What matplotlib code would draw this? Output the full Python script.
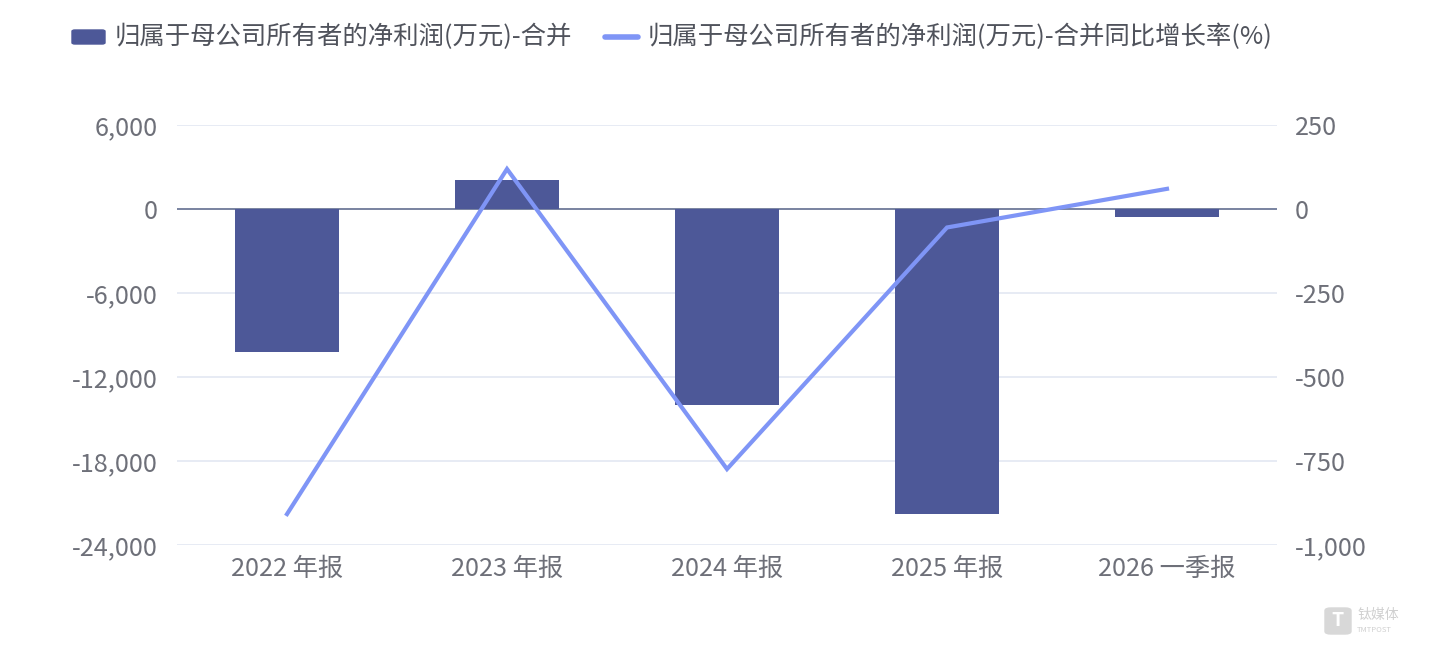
import numpy as np
import matplotlib.pyplot as plt
from matplotlib.patches import FancyBboxPatch
from matplotlib.ticker import FuncFormatter

plt.rcParams['font.family'] = ['Noto Sans CJK SC', 'DejaVu Sans']

# -------------------------------------------------
# data
# -------------------------------------------------
periods = ["2022 年报", "2023 年报", "2024 年报", "2025 年报", "2026 一季报"]
net_profit = [-10200, 2050, -14000, -21800, -580]     # 万元
yoy_growth = [-908, 119, -774, -55, 60]              # %

bar_label = "归属于母公司所有者的净利润(万元)-合并"
line_label = "归属于母公司所有者的净利润(万元)-合并同比增长率(%)"

left_ticks = [-24000, -18000, -12000, -6000, 0, 6000]
right_ticks = [-1000, -750, -500, -250, 0, 250]

bar_color = "#4D5898"
line_color = "#7F95F6"
grid_color = "#E3E8F2"
label_color = "#6E7079"

# -------------------------------------------------
# figure
# -------------------------------------------------
fig = plt.figure(figsize=(14.39, 6.60), dpi=100)
ax = fig.add_axes([177 / 1439, 1 - 545 / 660, 1100 / 1439, 420 / 660])
ax2 = ax.twinx()

x = np.arange(len(periods))

for y in left_ticks:
    if y != 0:
        ax.axhline(y, color=grid_color, lw=1.2, zorder=0)
ax.axhline(0, color="#6E7A99", lw=1.3, zorder=1)

ax.bar(x, net_profit, width=0.473, color=bar_color, zorder=2, label=bar_label)
ax2.plot(x, yoy_growth, color=line_color, lw=3, zorder=3, label=line_label,
         solid_joinstyle="miter")

ax.set_xlim(-0.5, len(periods) - 0.5)
ax.set_ylim(-24000, 6000)
ax2.set_ylim(-1000, 250)
ax.set_yticks(left_ticks)
ax2.set_yticks(right_ticks)
fmt = FuncFormatter(lambda v, p: f"{int(v):,}")
ax.yaxis.set_major_formatter(fmt)
ax2.yaxis.set_major_formatter(fmt)
ax.set_xticks(x)
ax.set_xticklabels(periods)

for a in (ax, ax2):
    for s in a.spines.values():
        s.set_visible(False)
    a.tick_params(length=0, labelsize=18.2, colors=label_color)
ax.tick_params(axis="y", pad=14)
ax2.tick_params(axis="y", pad=13)
ax.tick_params(axis="x", pad=8)

ax.set_zorder(ax2.get_zorder() - 1)
ax2.patch.set_visible(False)
ax.patch.set_visible(False)

# legend drawn by hand, positioned like the reference
fig.patches.append(FancyBboxPatch((72 / 1439, 1 - 44 / 660), 33 / 1439, 14 / 660,
                                  boxstyle="round,pad=0,rounding_size=0.002",
                                  transform=fig.transFigure, color=bar_color))
fig.text(115 / 1439, 1 - 37 / 660, bar_label, fontsize=18.3, color="#50535C",
         va="center", ha="left")
fig.lines.append(plt.Line2D([605 / 1439, 638 / 1439], [1 - 37 / 660] * 2,
                            transform=fig.transFigure, color=line_color, lw=4,
                            solid_capstyle="round"))
fig.text(648 / 1439, 1 - 37 / 660, line_label, fontsize=18.3, color="#50535C",
         va="center", ha="left")

# faint watermark
fig.patches.append(FancyBboxPatch((1325 / 1439, 1 - 634 / 660), 26 / 1439, 26 / 660,
                                  boxstyle="round,pad=0,rounding_size=0.004",
                                  transform=fig.transFigure, color="#D8D8D8"))
fig.text(1338 / 1439, 1 - 621 / 660, "T", fontsize=14, color="white",
         ha="center", va="center", fontweight="bold")
fig.text(1357 / 1439, 1 - 615 / 660, "钛媒体", fontsize=10, color="#D0D0D0",
         ha="left", va="center")
fig.text(1357 / 1439, 1 - 630 / 660, "TMTPOST", fontsize=5.5, color="#D0D0D0",
         ha="left", va="center")

fig.savefig("out.png", dpi=100, facecolor="white")
